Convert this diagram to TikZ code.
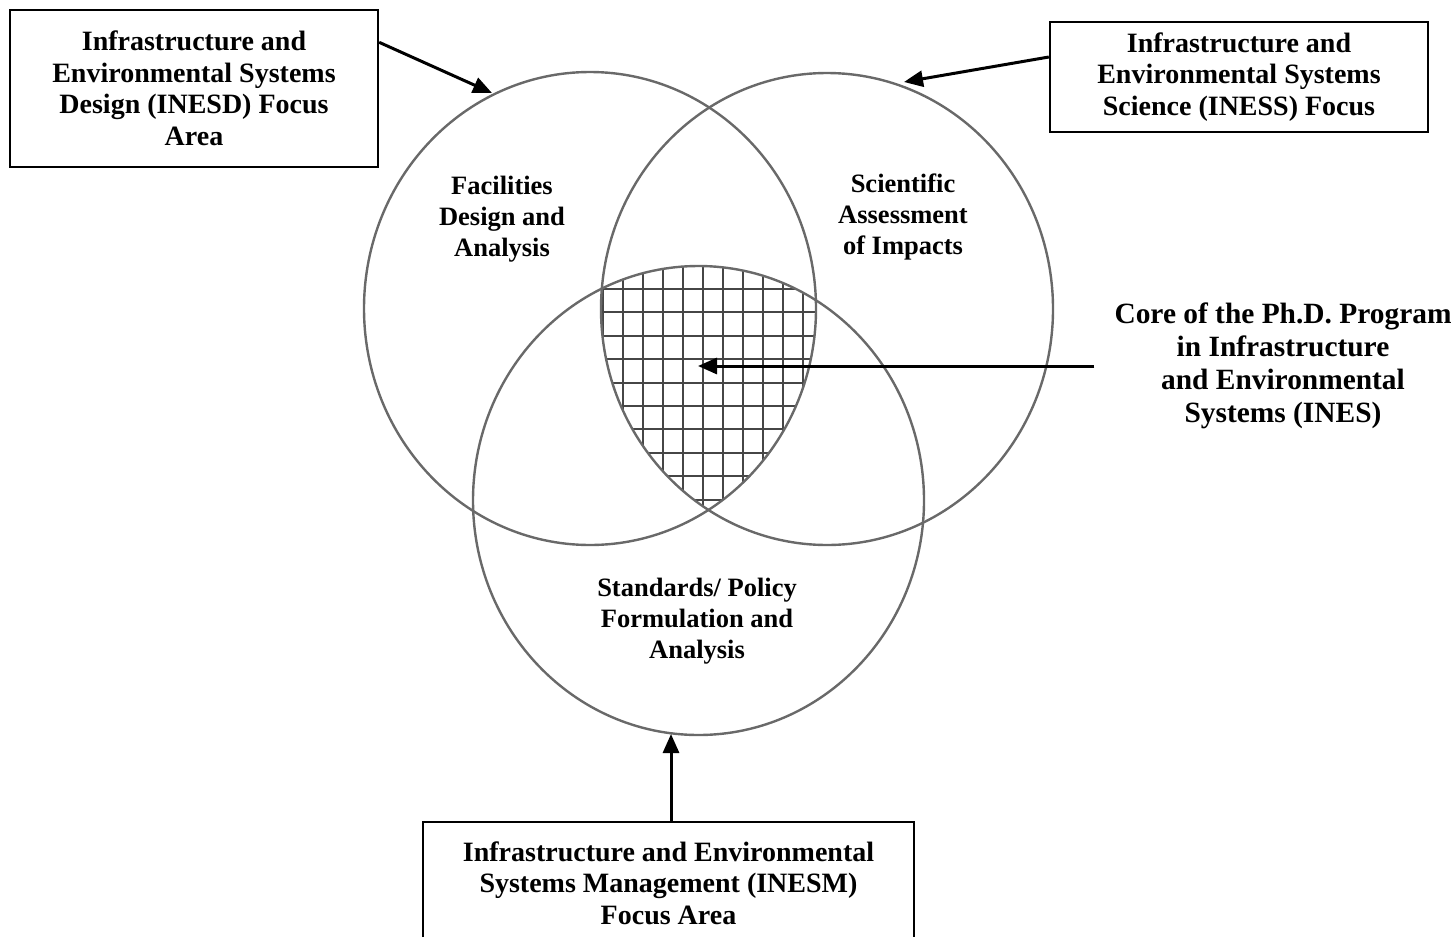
\documentclass[tikz,border=0pt]{standalone}
\usepackage{fontspec}
\setmainfont{Liberation Serif}
\usetikzlibrary{arrows.meta}
\definecolor{ringgray}{RGB}{105,105,105}
\definecolor{gridgray}{RGB}{70,70,70}
\begin{document}
\begin{tikzpicture}[x=1pt,y=-1pt,
  lbl/.style={align=center,inner sep=0pt,font=\bfseries\fontsize{28}{31.5}\selectfont},
  inlbl/.style={lbl,font=\bfseries\fontsize{26.5}{31}\selectfont},
  box/.style={lbl,draw,line width=2.4pt},
  ring/.style={draw=ringgray,line width=2.4pt},
  arr/.style={line width=3pt,-{Triangle[length=19pt,width=16pt]}},
  hatch/.style={draw=gridgray,line width=2pt}]
\useasboundingbox (0,0) rectangle (1455,937);

% hatched core
\begin{scope}
  \clip (590,308.5) ellipse [x radius=226pt, y radius=236.5pt];
  \clip (827,309) ellipse [x radius=226pt, y radius=236pt];
  \clip (698.5,500.5) ellipse [x radius=225.5pt, y radius=234.5pt];
  \foreach \gx in {603,623,643,663,683,703,723,743,763,783,803}
    \draw[hatch] (\gx,250) -- (\gx,530);
  \foreach \gy in {289,312,336,359,383,406,429,453,476,500}
    \draw[hatch] (580,\gy) -- (840,\gy);
\end{scope}

% circles
\draw[ring] (590,308.5) ellipse [x radius=226pt, y radius=236.5pt];
\draw[ring] (827,309) ellipse [x radius=226pt, y radius=236pt];
\draw[ring] (698.5,500.5) ellipse [x radius=225.5pt, y radius=234.5pt];

% circle labels
\node[inlbl] (fac) at (502,219) {Facilities\\Design and\\Analysis};
\node[inlbl] (sci) at (903,217) {Scientific\\Assessment\\of Impacts};
\node[inlbl] (std) at (697,621.5) {Standards/ Policy\\Formulation and\\Analysis};

% boxes
\node[box,minimum width=368pt,minimum height=157pt] (tl) at (194,88.5)
  {Infrastructure and\\Environmental Systems\\Design (INESD) Focus\\Area};
\node[box,minimum width=378pt,minimum height=110pt] (tr) at (1239,77)
  {Infrastructure and\\Environmental Systems\\Science (INESS) Focus};
\node[lbl,minimum width=491pt,minimum height=122pt] (bm) at (668.5,883)
  {Infrastructure and Environmental\\Systems Management (INESM)\\Focus Area};
\coordinate (bottomedge) at (0,937);
\draw[line width=2.4pt] (bm.north west |- bottomedge) -- (bm.north west) -- (bm.north east) -- (bm.north east |- bottomedge);

\node[lbl,font=\bfseries\fontsize{29.4}{33}\selectfont] (core) at (1283,366)
  {Core of the Ph.D. Program\\in Infrastructure\\and Environmental\\Systems (INES)};

% arrow tips
\coordinate (tipL) at (492,93);
\coordinate (tipR) at (904,82);
\coordinate (tipC) at (698,368);
\coordinate (tipB) at (671,734);

\draw[arr] (tl.14) -- (tipL);
\draw[arr] (tr.174) -- (tipR);
\draw[arr] ([xshift=-20pt]core.west) -- (tipC |- core.west);
\draw[arr] (bm.north -| tipB) -- (tipB);
\end{tikzpicture}
\end{document}
